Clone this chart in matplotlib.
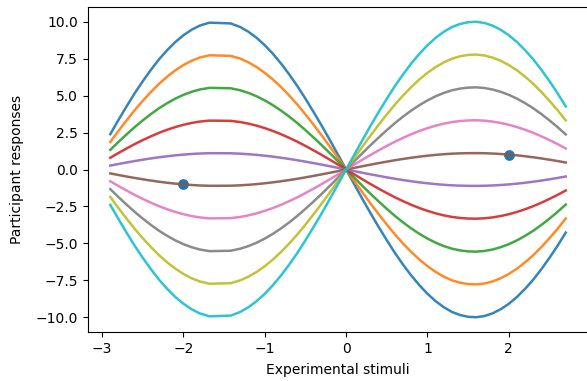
import matplotlib
matplotlib.use("Agg")
import matplotlib.pyplot as plt

# stimulus positions (there is a gap near the left peak)
stimuli = [-2.9, -2.8, -2.7, -2.6, -2.5, -2.4, -2.3, -2.2, -2.1, -2.0,
           -1.9, -1.8, -1.68, -1.42, -1.3, -1.2, -1.1, -1.0,
           -0.9, -0.8, -0.7, -0.6, -0.5, -0.4, -0.3, -0.2, -0.1, 0.0,
           0.1, 0.2, 0.3, 0.4, 0.5, 0.6, 0.7, 0.8, 0.9, 1.0,
           1.1, 1.2, 1.3, 1.4, 1.5, 1.6, 1.7, 1.8, 1.9, 2.0,
           2.1, 2.2, 2.3, 2.4, 2.5, 2.6, 2.7]
# response curve at unit gain
unit_curve = [-0.239, -0.335, -0.427, -0.516, -0.598, -0.675, -0.746, -0.808, -0.863, -0.909,
              -0.946, -0.974, -0.994, -0.989, -0.964, -0.932, -0.891, -0.841,
              -0.783, -0.717, -0.644, -0.565, -0.479, -0.389, -0.296, -0.199, -0.100, 0.000,
              0.100, 0.199, 0.296, 0.389, 0.479, 0.565, 0.644, 0.717, 0.783, 0.841,
              0.891, 0.932, 0.964, 0.985, 0.997, 1.000, 0.992, 0.974, 0.946, 0.909,
              0.863, 0.808, 0.746, 0.675, 0.598, 0.516, 0.427]
# gain of each participant
gains = [-10.0, -7.78, -5.56, -3.33, -1.11, 1.11, 3.33, 5.56, 7.78, 10.0]

# highlighted observations
obs_x = [-2, 2]
obs_y = [-1.01, 1.01]

fig = plt.figure(figsize=(5.87, 3.81), dpi=100)
ax = fig.add_axes([87.5 / 587, 49 / 381, 501 / 587, 325 / 381])

for g in gains:
    ax.plot(stimuli, [g * u for u in unit_curve], lw=1.8, alpha=0.9)
ax.scatter(obs_x, obs_y, s=45)

ax.set_xlabel('Experimental stimuli', labelpad=5)
ax.set_ylabel('Participant responses', labelpad=8)

fig.savefig('out.png', dpi=100)
